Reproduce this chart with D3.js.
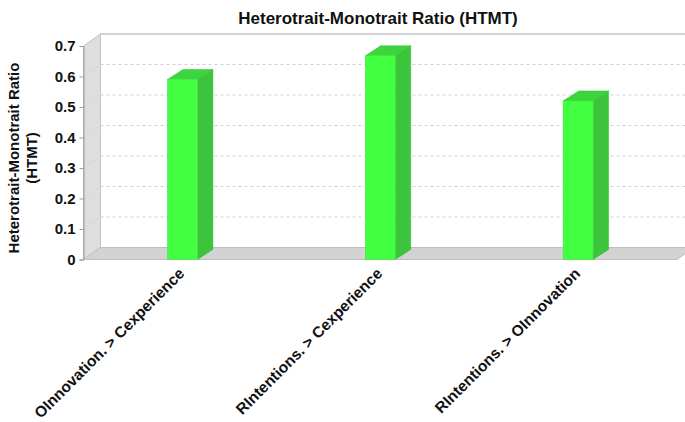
<!DOCTYPE html>
<html><head><meta charset="utf-8">
<script src="https://cdn.jsdelivr.net/npm/d3@7"></script>
<style>body{margin:0;background:#fff}svg{display:block}text{font-family:"Liberation Sans",Arial,sans-serif}</style>
</head><body><svg id="c" width="685" height="422"></svg>
<script>
const categories = ["OInnovation. > Cexperience", "RIntentions. > Cexperience", "RIntentions. > OInnovation"];
const values = [0.59, 0.668, 0.52];
const yTicks = [0, 0.1, 0.2, 0.3, 0.4, 0.5, 0.6, 0.7];
const tickLabels = ["0", "0.1", "0.2", "0.3", "0.4", "0.5", "0.6", "0.7"];
const title = "Heterotrait-Monotrait Ratio (HTMT)";
const yTitle = ["Heterotrait-Monotrait Ratio", "(HTMT)"];

const svg = d3.select("#c");
const x0 = 83.5, x1 = 677, yb = 259.5, yt = 46;
const wdx = 17, wdy = -12;   // wall depth
const bdx = 15.5, bdy = -10; // bar depth
const y = d3.scaleLinear().domain([0, 0.7]).range([yb, yt]);
const x = d3.scaleBand().domain(categories).range([x0, x1]);
const bw = 30;

// back wall
svg.append("rect").attr("x", x0 + wdx).attr("y", yt + wdy).attr("width", 700).attr("height", yb - yt)
  .attr("fill", "#fff").attr("stroke", "#c8c8c8").attr("stroke-width", 1);
// left wall
svg.append("path").attr("d", `M${x0},${yt}L${x0+wdx},${yt+wdy}L${x0+wdx},${yb+wdy}L${x0},${yb}Z`)
  .attr("fill", "#dedede").attr("stroke", "#c4c4c4");
// gridlines on back wall
svg.append("g").selectAll("line").data(yTicks.filter(d => d > 0)).join("line")
  .attr("x1", x0 + wdx).attr("x2", 685).attr("y1", d => y(d) + wdy).attr("y2", d => y(d) + wdy)
  .attr("stroke", d => d === 0.7 ? "#c4c4c4" : "#d0d0d0").attr("stroke-dasharray", d => d === 0.7 ? null : "3,3");
// diagonal lines on left wall
svg.append("g").selectAll("line").data(yTicks.filter(d => d > 0 && d < 0.7)).join("line")
  .attr("x1", x0).attr("y1", d => y(d)).attr("x2", x0 + wdx).attr("y2", d => y(d) + wdy)
  .attr("stroke", "#cfcfcf").attr("stroke-dasharray", "2,2");
// floor
svg.append("path").attr("d", `M${x0},${yb}L${x0+wdx},${yb+wdy}L${x1+wdx},${yb+wdy}L${x1},${yb}Z`)
  .attr("fill", "#d3d3d3").attr("stroke", "#bdbdbd");

// bars
const bars = svg.append("g").selectAll("g").data(values).join("g");
const bx = (d, i) => x(categories[i]) + x.bandwidth() / 2 - bw / 2;
bars.append("path").attr("d", (d, i) => {
  const l = bx(d, i), r = l + bw, t = y(d);
  return `M${r},${yb}L${r+bdx},${yb+bdy}L${r+bdx},${t+bdy}L${r},${t}Z`;
}).attr("fill", "#3cc43c").attr("stroke", "#36b836").attr("stroke-width", 0.5);
bars.append("path").attr("d", (d, i) => {
  const l = bx(d, i), r = l + bw, t = y(d);
  return `M${l},${t}L${l+bdx},${t+bdy}L${r+bdx},${t+bdy}L${r},${t}Z`;
}).attr("fill", "#3dd43d").attr("stroke", "#36c036").attr("stroke-width", 0.5);
bars.append("rect").attr("x", bx).attr("y", d => y(d)).attr("width", bw).attr("height", d => yb - y(d))
  .attr("fill", "#42ff42").attr("stroke", "#3ce83c").attr("stroke-width", 0.5);

// y axis
const ya = svg.append("g").attr("transform", `translate(${x0},0)`)
  .call(d3.axisLeft(y).tickValues(yTicks).tickFormat((d, i) => tickLabels[i]).tickSize(4).tickPadding(4));
ya.select(".domain").attr("stroke", "#999");
ya.selectAll(".tick line").attr("stroke", "#999");
ya.selectAll("text").attr("font-size", 15).attr("font-weight", "bold").attr("fill", "#111");

// x labels
svg.append("g").selectAll("text").data(categories).join("text")
  .attr("transform", d => `translate(${x(d) + x.bandwidth() / 2 + 3},${yb + 15}) rotate(-45)`)
  .attr("text-anchor", "end").attr("font-size", 15.5).attr("font-weight", "bold").attr("fill", "#111")
  .text(d => d);

// title
svg.append("text").attr("x", 378).attr("y", 24).attr("text-anchor", "middle")
  .attr("font-size", 17).attr("font-weight", "bold").attr("fill", "#111").text(title);
// y title
svg.append("text").attr("transform", "translate(0,158) rotate(-90)").attr("text-anchor", "middle")
  .attr("font-size", 15).attr("font-weight", "bold").attr("fill", "#111")
  .selectAll("tspan").data(yTitle).join("tspan").attr("x", 0).attr("y", (d, i) => 19 + i * 18).text(d => d);
</script></body></html>
